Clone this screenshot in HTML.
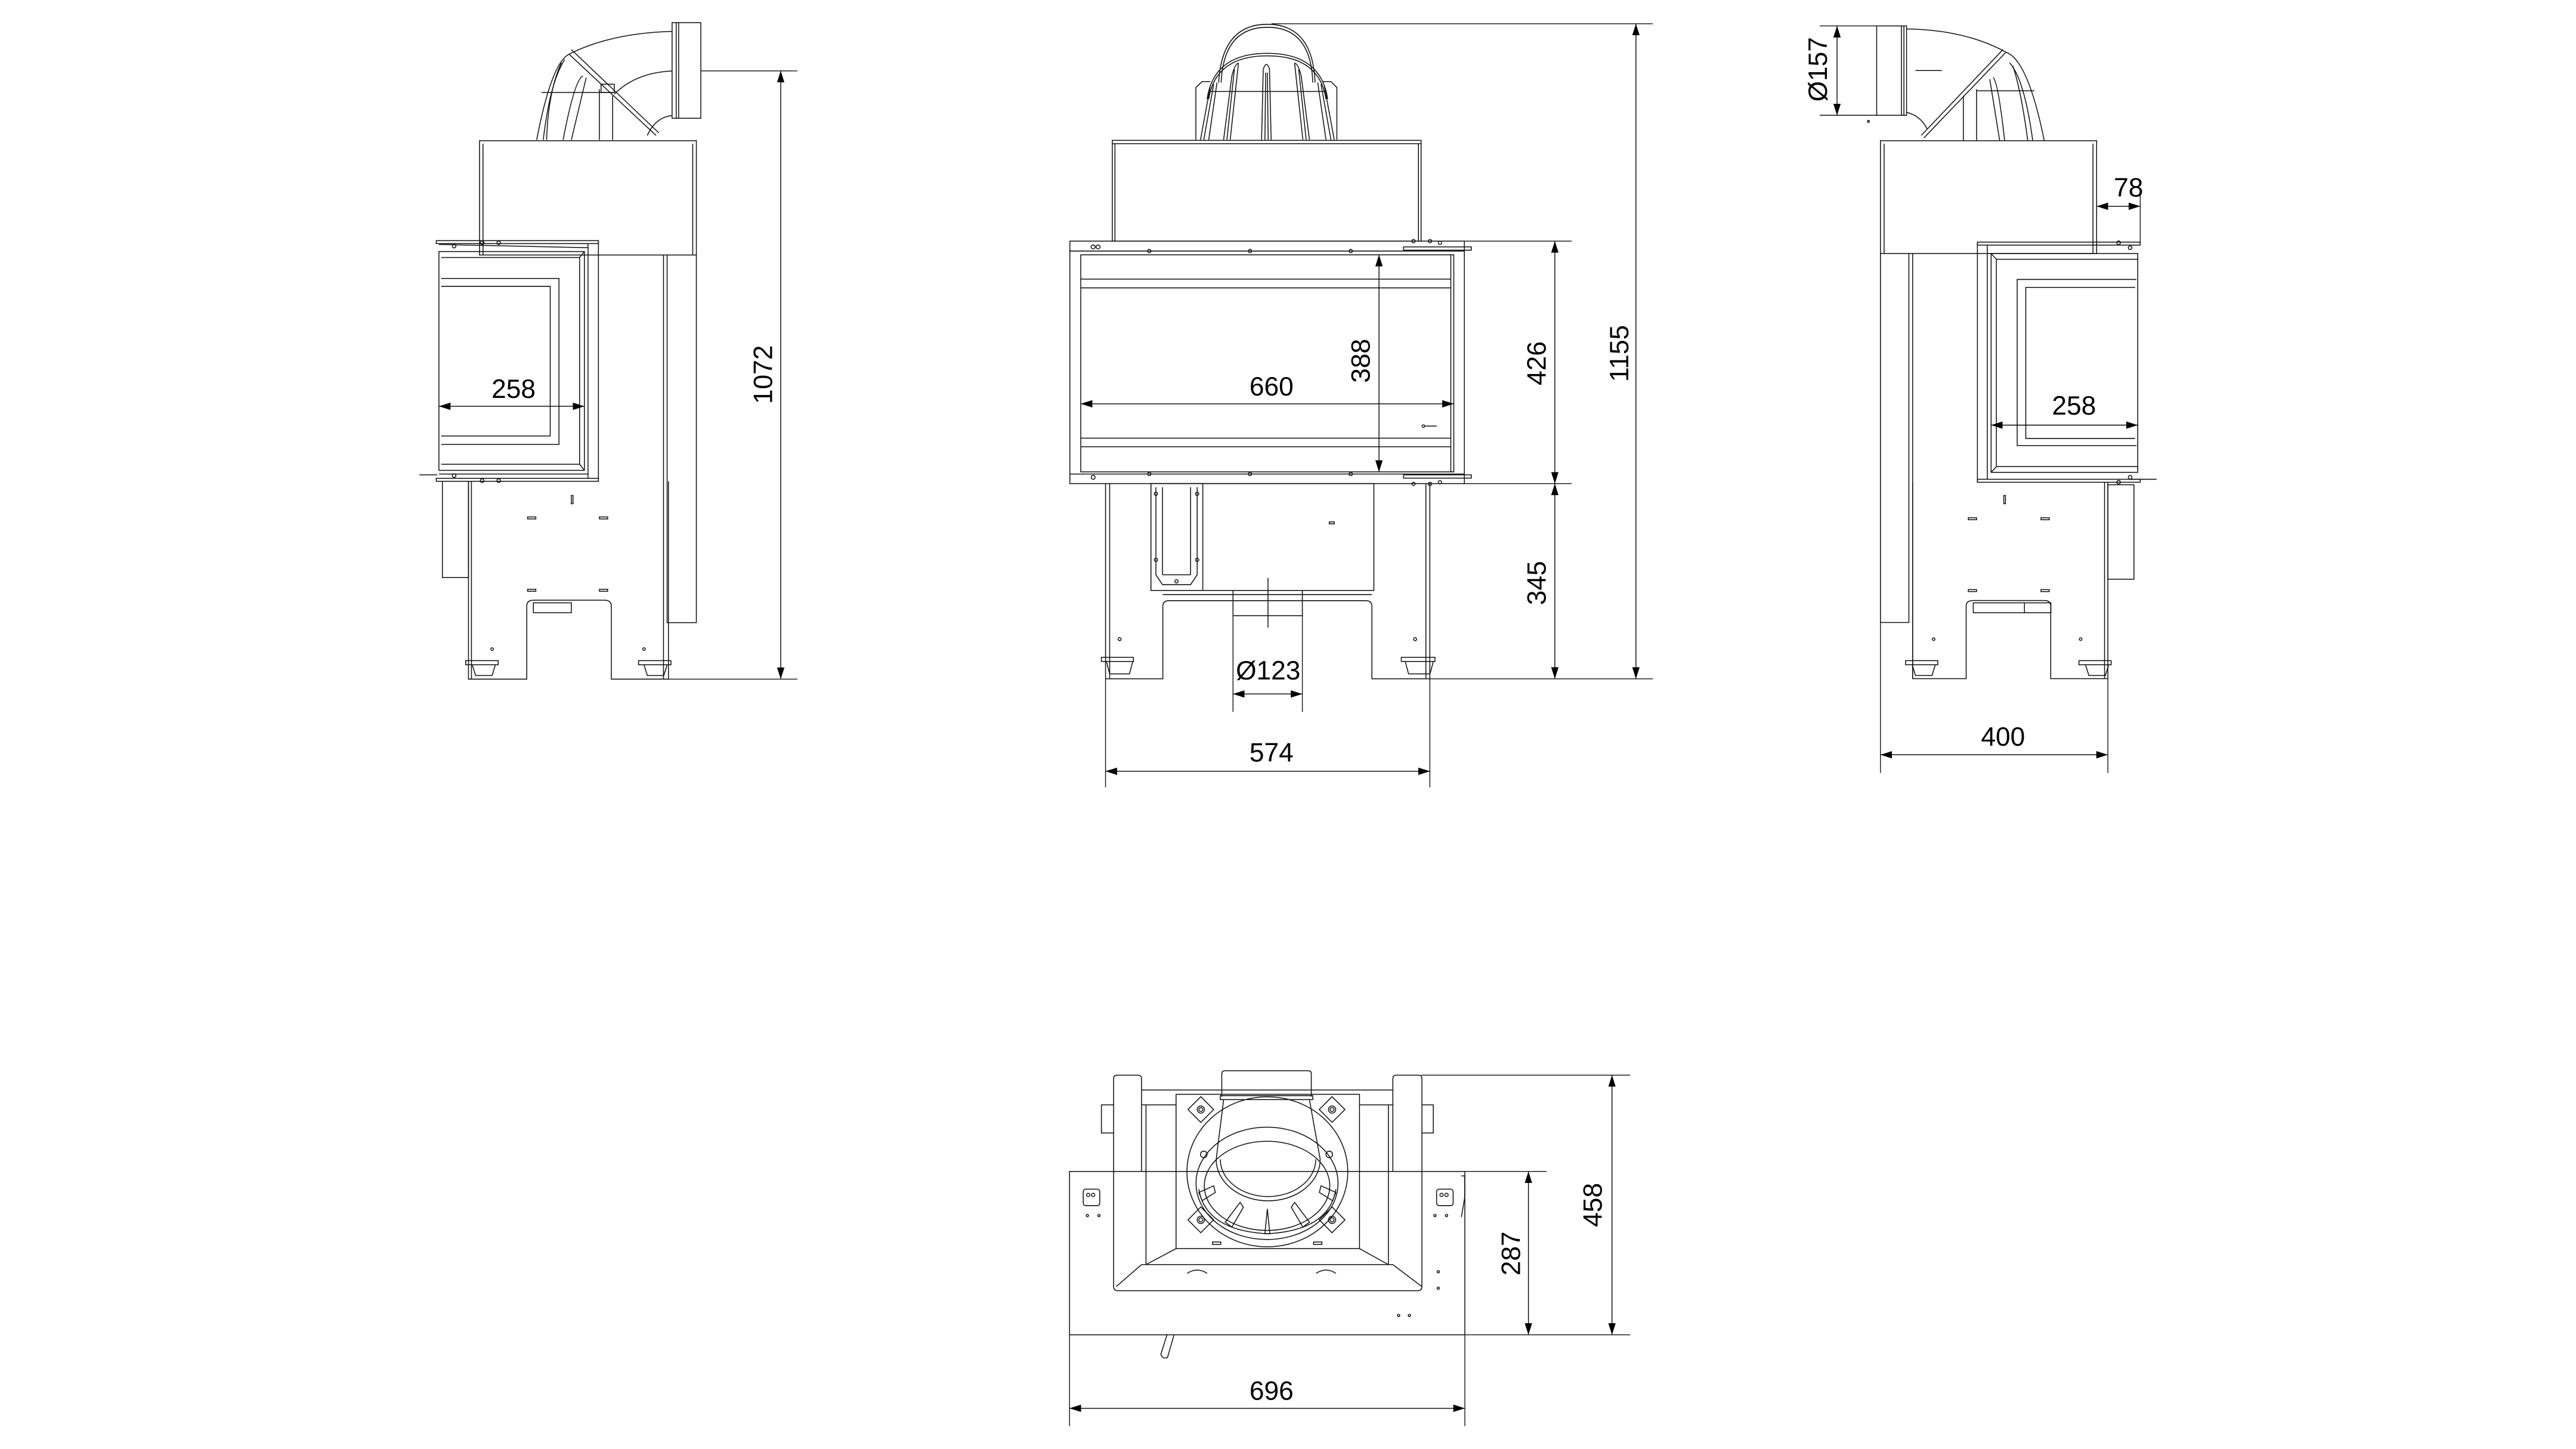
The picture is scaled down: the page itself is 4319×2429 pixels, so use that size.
<!DOCTYPE html>
<html><head><meta charset="utf-8"><style>
html,body{margin:0;padding:0;background:#fff}
svg{display:block}
text{font-family:"Liberation Sans",sans-serif;font-size:16px;fill:#000}
</style></head><body>
<svg width="4319" height="2429" viewBox="0 0 1560 877.35" xmlns="http://www.w3.org/2000/svg">
<defs>
<marker id="a" viewBox="0 0 10 10" refX="10" refY="5" markerWidth="7" markerHeight="7" markerUnits="userSpaceOnUse" orient="auto-start-reverse"><path d="M0,1.8 L10,5 L0,8.2z" fill="#000"/></marker>
</defs>
<rect width="1560" height="877.35" fill="#fff"/>
<g fill="none" stroke="#111" stroke-width="0.55">

<!-- ===== CENTER FRONT VIEW ===== -->
<!-- dome -->
<path d="M738,50 Q740,14.7 767.5,14.7 Q795,14.7 796.4,50"/>
<path d="M739.5,50 Q741,16.5 767.5,16.5 Q794,16.5 795,50"/>
<path d="M731,60 Q735,32.3 767.5,32.3 Q800,32.3 804,60"/>
<path d="M732,60 Q736,33.8 767.5,33.8 Q799,33.8 803,60"/>
<path d="M724.2,84.6 L724.2,53 L728,49.4 L733,49.4"/>
<path d="M809.6,84.6 L809.6,53 L806,49.4 L801,49.4"/>
<path d="M727,84.6 L733,52"/><path d="M729,84.6 L735,51"/><path d="M732,84.6 L737,50"/>
<path d="M808,84.6 L802,52"/><path d="M806,84.6 L800,51"/><path d="M803,84.6 L798,50"/>
<path d="M741,84.6 L746,46 Q748,38.3 750,38.3 L745,84.6"/>
<path d="M743,84.6 L747.5,42"/>
<path d="M764,84.6 L765,42 Q766.9,36 768.8,42 L769.8,84.6"/>
<path d="M766,84.6 L766.5,44"/><path d="M768,84.6 L767.5,44"/>
<path d="M793,84.6 L788,46 Q786,38.3 784,38.3 L789,84.6"/>
<path d="M791,84.6 L786.5,42"/>
<line x1="733" y1="55.4" x2="802" y2="55.4"/>
<!-- upper box -->
<rect x="673.6" y="85" width="187" height="61"/>
<line x1="675.2" y1="87" x2="675.2" y2="146"/><line x1="859" y1="87" x2="859" y2="146"/>
<line x1="673.6" y1="87" x2="860.6" y2="87"/>
<!-- main frame -->
<rect x="647.9" y="146" width="238.9" height="146.8"/>
<line x1="647.9" y1="152" x2="886.8" y2="152"/>
<line x1="647.9" y1="287" x2="886.8" y2="287"/>
<path d="M850,149.5 L891,149.5 L891,151.5 L850,151.5z"/>
<path d="M850,287.5 L891,287.5 L891,289.5 L850,289.5z"/>
<rect x="654.5" y="154.3" width="225.9" height="131.4"/>
<line x1="878.6" y1="154.3" x2="878.6" y2="285.7"/>
<line x1="654.5" y1="169" x2="878.6" y2="169"/><line x1="654.5" y1="174.3" x2="878.6" y2="174.3"/>
<line x1="654.5" y1="265.3" x2="878.6" y2="265.3"/><line x1="654.5" y1="270.5" x2="878.6" y2="270.5"/>
<circle cx="662" cy="149.5" r="1.2"/><circle cx="665" cy="149.5" r="1.2"/><circle cx="696" cy="152" r="1"/><circle cx="757" cy="152" r="1"/><circle cx="818" cy="152" r="1"/>
<circle cx="662" cy="289" r="1.2"/><circle cx="696" cy="287" r="1"/><circle cx="757" cy="287" r="1"/><circle cx="818" cy="287" r="1"/>
<circle cx="856" cy="146" r="1"/><circle cx="866" cy="146" r="1"/><circle cx="872" cy="147" r="1"/><circle cx="856" cy="293" r="1"/><circle cx="866" cy="293" r="1"/><circle cx="872" cy="292" r="1"/>
<circle cx="862" cy="258" r="0.8"/><line x1="863" y1="258" x2="870" y2="258"/>
<!-- lower legs -->
<path d="M669.5,292.8 L669.5,411 L704.2,411 L704.2,367 Q704.2,363.7 708,363.7 L827,363.7 Q830.8,363.7 830.8,367 L830.8,411 L865.9,411 L865.9,292.8"/>
<line x1="672" y1="292.8" x2="672" y2="411"/><line x1="863.5" y1="292.8" x2="863.5" y2="411"/>
<rect x="697" y="292.8" width="135" height="64.7"/>
<rect x="697" y="292.8" width="31.4" height="64.7"/>
<path d="M700,295 L700,348 L704,354 L721,354 L725,348 L725,295"/>
<line x1="704" y1="295" x2="704" y2="348"/><line x1="721" y1="295" x2="721" y2="348"/><line x1="704" y1="348" x2="721" y2="348"/>
<circle cx="700" cy="299" r="1"/><circle cx="725" cy="299" r="1"/><circle cx="700" cy="339" r="1"/><circle cx="725" cy="339" r="1"/><circle cx="712.5" cy="352" r="1"/>
<rect x="805" y="316" width="3" height="1.2"/>
<rect x="746.7" y="357.5" width="42" height="15.3"/>
<line x1="767.9" y1="350" x2="767.9" y2="380"/>
<line x1="704.2" y1="360" x2="830.8" y2="360"/>
<rect x="667" y="398" width="19.4" height="2.5"/><rect x="848.6" y="398" width="20.4" height="2.5"/>
<path d="M670,400.5 L672,408 L684,408 L686,400.5"/><path d="M851,400.5 L853,408 L866,408 L868,400.5"/>
<circle cx="678" cy="387" r="0.9"/><circle cx="857" cy="387" r="0.9"/>

<!-- ===== LEFT SIDE VIEW ===== -->
<rect x="407" y="13.7" width="17.4" height="57.9"/>
<line x1="409.5" y1="13.7" x2="409.5" y2="71.6"/><line x1="411" y1="13.7" x2="411" y2="71.6"/>
<path d="M407,19 Q370,20 344.6,32.8"/>
<path d="M407,43 Q385,44 372,57"/>
<path d="M407,70 Q397,71 392,82"/>
<path d="M344.6,32.8 L397.3,82 M346,30 L399,80.5"/>
<path d="M344.6,32.8 Q334,38 325,84.7"/>
<path d="M342,36 Q333,50 329,84.7"/><path d="M340,38 Q332,55 331,84.7"/>
<path d="M353,46 Q348,48 341,84.7 M355,47 L346,84.7"/>
<line x1="363" y1="54" x2="363" y2="84.7"/><line x1="371" y1="58" x2="371" y2="84.7"/>
<line x1="328" y1="56" x2="372" y2="56"/>
<rect x="364" y="51" width="8" height="5"/>
<!-- box -->
<rect x="290.4" y="85.2" width="131.3" height="69.2"/>
<line x1="292.5" y1="87" x2="292.5" y2="154.4"/><line x1="419.5" y1="87" x2="419.5" y2="154.4"/>
<path d="M404,154.4 L404,377 L421.7,377 L421.7,154.4"/>
<line x1="401.8" y1="154.4" x2="401.8" y2="411.2"/>
<!-- front frame -->
<rect x="264.2" y="145.7" width="98.2" height="1.8"/>
<rect x="264.2" y="289.6" width="98.2" height="1.8"/>
<line x1="362.4" y1="145.7" x2="362.4" y2="291.4"/><line x1="356.1" y1="147.5" x2="356.1" y2="289.6"/>
<rect x="265.8" y="152.3" width="88.1" height="132.5"/>
<path d="M267.2,155.9 L351,155.9 L351,281.1 L267.2,281.1"/>
<line x1="351" y1="155.9" x2="353.9" y2="152.3"/><line x1="351" y1="281.1" x2="353.9" y2="284.8"/>
<path d="M267.2,168.6 L338.5,168.6 L338.5,269.1 L267.2,269.1"/>
<path d="M267.2,173.4 L333.2,173.4 L333.2,264 L267.2,264"/>
<line x1="265.8" y1="148" x2="356" y2="150"/><line x1="265.8" y1="287" x2="356" y2="287"/>
<line x1="254" y1="287.5" x2="264.8" y2="287.5"/>
<circle cx="275" cy="149" r="1.1"/><circle cx="292" cy="147" r="1.1"/><circle cx="302" cy="147" r="1.1"/><circle cx="275" cy="288" r="1.1"/><circle cx="292" cy="291" r="1.1"/><circle cx="302" cy="291" r="1.1"/>
<!-- lower body -->
<path d="M283.7,291.4 L283.7,411.2 L319,411.2 L319,367 Q319,363.4 323,363.4 L366,363.4 Q370.2,363.4 370.2,367 L370.2,411.2 L404.8,411.2 L404.8,291.4"/>
<line x1="285.5" y1="291.4" x2="285.5" y2="411.2"/>
<rect x="267.9" y="291.4" width="15.8" height="58.3"/>
<rect x="323" y="365" width="23" height="6"/>
<rect x="319.5" y="313" width="5" height="1.2"/><rect x="363" y="313" width="5" height="1.2"/>
<rect x="319.5" y="356.8" width="5" height="1.2"/><rect x="363" y="356.8" width="5" height="1.2"/>
<rect x="346" y="300" width="1" height="5"/>
<rect x="282" y="400" width="19.7" height="2.5"/><rect x="386.7" y="400" width="19.6" height="2.5"/>
<path d="M286,402.5 L288,409 L298,409 L300,402.5"/><path d="M390,402.5 L392,409 L402,409 L404,402.5"/>
<circle cx="298" cy="393" r="0.8"/><circle cx="390" cy="393" r="0.8"/>

<!-- ===== RIGHT SIDE VIEW ===== -->
<rect x="1136.5" y="15.7" width="18.1" height="54.1"/>
<line x1="1151.5" y1="15.7" x2="1151.5" y2="69.8"/><line x1="1153" y1="15.7" x2="1153" y2="69.8"/>
<path d="M1154.6,17.5 Q1190,18 1214.8,31.6"/>
<path d="M1154.6,68 Q1163,70 1167,78"/>
<path d="M1214.8,31.6 L1165.1,83.5 M1213,30 L1163.5,82"/>
<path d="M1214.8,31.6 Q1228,36 1238,85.2"/>
<path d="M1217,38 Q1226,48 1231,85.2"/><path d="M1219,40 Q1224,55 1228,85.2"/>
<path d="M1207,47 Q1210,49 1214,85.2 M1205,48 L1211,85.2"/>
<line x1="1189" y1="58" x2="1189" y2="85.2"/><line x1="1197" y1="54" x2="1197" y2="85.2"/>
<line x1="1176" y1="42.7" x2="1160" y2="42.7"/><line x1="1197" y1="55" x2="1232" y2="55"/>
<rect x="1131" y="73" width="1" height="1"/>
<rect x="1138.8" y="85.2" width="130.9" height="68.3"/>
<line x1="1141" y1="87" x2="1141" y2="153.5"/><line x1="1267.5" y1="87" x2="1267.5" y2="153.5"/>
<path d="M1156,153.5 L1156,376.9 L1138.8,376.9 L1138.8,153.5"/>
<line x1="1158.3" y1="153.5" x2="1158.3" y2="410.9"/>
<!-- front frame -->
<rect x="1197.5" y="146.6" width="98.6" height="1.8"/>
<rect x="1197.5" y="290.2" width="98.6" height="1.8"/>
<line x1="1197.5" y1="146.6" x2="1197.5" y2="292"/><line x1="1203.5" y1="148.4" x2="1203.5" y2="290.2"/>
<rect x="1205.8" y="153.5" width="88.8" height="132.5"/>
<path d="M1294.6,157 L1209,157 L1209,282.5 L1294.6,282.5"/>
<line x1="1209" y1="157" x2="1205.8" y2="153.5"/><line x1="1209" y1="282.5" x2="1205.8" y2="286"/>
<path d="M1293.8,169.2 L1221.6,169.2 L1221.6,269.8 L1293.8,269.8"/>
<path d="M1293,174 L1226.8,174 L1226.8,265.5 L1293,265.5"/>
<line x1="1290" y1="290.2" x2="1306" y2="290.2"/>
<circle cx="1283" cy="147" r="1.1"/><circle cx="1290" cy="150" r="1.1"/><circle cx="1283" cy="292" r="1.1"/><circle cx="1290" cy="289" r="1.1"/>
<!-- lower body -->
<path d="M1158.3,292 L1158.3,410.9 L1190.7,410.9 L1190.7,367 Q1190.7,363.6 1195,363.6 L1238,363.6 Q1241.9,363.6 1241.9,367 L1241.9,410.9 L1276.5,410.9 L1276.5,292"/>
<line x1="1274.5" y1="292" x2="1274.5" y2="410.9"/>
<rect x="1276.5" y="293.5" width="15.8" height="57.2"/>
<rect x="1195" y="365" width="47" height="6"/><line x1="1226" y1="365" x2="1226" y2="371"/>
<rect x="1192" y="313.5" width="5" height="1.2"/><rect x="1236" y="313.5" width="5" height="1.2"/>
<rect x="1192" y="357" width="5" height="1.2"/><rect x="1236" y="357" width="5" height="1.2"/>
<rect x="1213.5" y="300" width="1" height="5"/>
<rect x="1154" y="400" width="19.5" height="2.5"/><rect x="1259" y="400" width="19.5" height="2.5"/>
<path d="M1158,402.5 L1160,409 L1170,409 L1172,402.5"/><path d="M1263,402.5 L1265,409 L1275,409 L1277,402.5"/>
<circle cx="1171" cy="387" r="0.8"/><circle cx="1260" cy="387" r="0.8"/>

<!-- ===== BOTTOM (TOP-DOWN) VIEW ===== -->
<rect x="647.7" y="709.3" width="239.4" height="98.9"/>
<path d="M674.4,709.3 L674.4,653 Q674.4,651 676.5,651 L689,651 Q691.3,651 691.3,653 L691.3,709.3"/>
<path d="M843.5,709.3 L843.5,653 Q843.5,651 845.6,651 L859,651 Q861.1,651 861.1,653 L861.1,709.3"/>
<path d="M674.4,709.3 L674.4,779 Q674.4,781.5 677,781.5 L858.5,781.5 Q861.1,781.5 861.1,779 L861.1,709.3"/>
<line x1="691.3" y1="660" x2="843.5" y2="660"/><line x1="691.3" y1="669" x2="712.2" y2="669"/><line x1="823.3" y1="669" x2="843.5" y2="669"/>
<line x1="694" y1="669" x2="694" y2="765.7"/><line x1="840.8" y1="669" x2="840.8" y2="765.7"/>
<path d="M674.4,669 L667,669 L667,686 L674.4,686"/><path d="M861.1,669 L868,669 L868,686 L861.1,686"/>
<path d="M691.3,765.7 L843.5,765.7 L861.1,779 M691.3,765.7 L676,779"/>
<line x1="694" y1="765.7" x2="712.2" y2="756"/><line x1="840.8" y1="765.7" x2="823.3" y2="756"/>
<rect x="712.2" y="662.6" width="111.1" height="93.4"/>
<!-- collar -->
<path d="M739.9,664 L739.9,650 Q740,648.3 742,648.3 L792,648.3 Q794.1,648.3 794.1,650 L794.1,664"/>
<rect x="739" y="663.4" width="56" height="2.4"/>
<path d="M741,666 L736.5,702 A31.4,25 0 0 0 799.5,702 L793,666"/>
<path d="M739,702 A28.9,22.5 0 0 0 796.8,702"/>
<ellipse cx="767.5" cy="709.5" rx="48.7" ry="45.4"/>
<ellipse cx="767.3" cy="716.5" rx="43" ry="34"/>
<ellipse cx="767.3" cy="718" rx="38" ry="27"/>
<path d="M726,720 Q730,745 767.5,747"/><path d="M809,720 Q805,745 767.5,747"/>
<g transform="translate(727.2,671.8) rotate(45)"><rect x="-5.5" y="-5.5" width="11" height="11"/><circle r="2.2"/><circle r="1.2"/></g>
<g transform="translate(806.7,671.8) rotate(45)"><rect x="-5.5" y="-5.5" width="11" height="11"/><circle r="2.2"/><circle r="1.2"/></g>
<g transform="translate(727.2,738.6) rotate(45)"><rect x="-5.5" y="-5.5" width="11" height="11"/><circle r="2.2"/><circle r="1.2"/></g>
<g transform="translate(806.7,738.6) rotate(45)"><rect x="-5.5" y="-5.5" width="11" height="11"/><circle r="2.2"/><circle r="1.2"/></g>
<circle cx="729" cy="699" r="2"/><circle cx="805" cy="699" r="2"/>
<path d="M742,740 L751,728 L753,731 L746,743z"/><path d="M766,747 L767.5,732 L769,747z"/><path d="M793,740 L784,728 L782,731 L789,743z"/>
<path d="M726,722 L735,718 L736,722 L728,727z"/><path d="M809,722 L800,718 L799,722 L807,727z"/>
<rect x="734.3" y="752" width="5" height="1.5"/><rect x="795.5" y="752" width="5" height="1.5"/>
<path d="M719,771 Q725,767 731,771"/><path d="M797,771 Q803,767 809,771"/>
<rect x="656" y="720" width="10" height="10" rx="1.5"/><rect x="870" y="720" width="10" height="10" rx="1.5"/>
<circle cx="659" cy="723.5" r="1"/><circle cx="662" cy="723.5" r="1"/><circle cx="873" cy="723.5" r="1"/><circle cx="876" cy="723.5" r="1"/>
<circle cx="658.5" cy="736" r="0.7"/><circle cx="665.5" cy="736" r="0.7"/><circle cx="869" cy="736" r="0.7"/><circle cx="876" cy="736" r="0.7"/>
<circle cx="871" cy="770" r="0.7"/><circle cx="871" cy="780" r="0.7"/><circle cx="847" cy="796.5" r="0.7"/><circle cx="853.5" cy="796.5" r="0.7"/>
<path d="M885,712 L887,712 L887,725 L885,737"/>
<path d="M706.7,808.2 L703,820 Q704,823 707,822 L711,808.2"/>
</g>

<!-- ===== DIMENSIONS ===== -->
<g fill="none" stroke="#111" stroke-width="0.5">
<!-- center -->
<line x1="770" y1="14.4" x2="1001" y2="14.4"/>
<line x1="866" y1="411" x2="1001" y2="411"/>
<line x1="886.8" y1="146" x2="951.8" y2="146"/>
<line x1="886.8" y1="292.8" x2="951.8" y2="292.8"/>
<line x1="669.5" y1="411" x2="669.5" y2="476.7"/><line x1="865.9" y1="411" x2="865.9" y2="476.7"/>
<line x1="746.7" y1="372.8" x2="746.7" y2="431"/><line x1="788.7" y1="372.8" x2="788.7" y2="431"/>
<!-- left -->
<line x1="424.4" y1="42.9" x2="482.9" y2="42.9"/><line x1="404.8" y1="411.2" x2="482.9" y2="411.2"/>
<!-- right -->
<line x1="1102" y1="15.7" x2="1136.5" y2="15.7"/><line x1="1102" y1="69.8" x2="1136.5" y2="69.8"/>
<line x1="1296.1" y1="114.4" x2="1296.1" y2="148"/>
<line x1="1138.8" y1="376.9" x2="1138.8" y2="468"/><line x1="1276.5" y1="410.9" x2="1276.5" y2="468"/>
<!-- bottom -->
<line x1="860.7" y1="651" x2="987.2" y2="651"/>
<line x1="887.1" y1="709.3" x2="936.6" y2="709.3"/>
<line x1="887.1" y1="808.2" x2="987.2" y2="808.2"/>
<line x1="647.7" y1="808.2" x2="647.7" y2="863.5"/><line x1="887.1" y1="808.2" x2="887.1" y2="863.5"/>
</g>
<g stroke="#000" stroke-width="0.5" marker-start="url(#a)" marker-end="url(#a)">
<line x1="654.5" y1="244.5" x2="880.4" y2="244.5"/>
<line x1="835.1" y1="154.3" x2="835.1" y2="285.7"/>
<line x1="941.6" y1="146" x2="941.6" y2="292.8"/>
<line x1="941.6" y1="292.8" x2="941.6" y2="411"/>
<line x1="990.7" y1="14.4" x2="990.7" y2="411"/>
<line x1="746.7" y1="420.2" x2="788.7" y2="420.2"/>
<line x1="669.5" y1="467" x2="865.9" y2="467"/>
<line x1="472.8" y1="42.9" x2="472.8" y2="411.2"/>
<line x1="265.8" y1="246" x2="353.9" y2="246"/>
<line x1="1112.5" y1="15.7" x2="1112.5" y2="69.8"/>
<line x1="1269.7" y1="124.9" x2="1296.1" y2="124.9"/>
<line x1="1205.8" y1="257.4" x2="1294.6" y2="257.4"/>
<line x1="1138.8" y1="457" x2="1276.5" y2="457"/>
<line x1="925.6" y1="709.3" x2="925.6" y2="808.2"/>
<line x1="976.2" y1="651" x2="976.2" y2="808.2"/>
<line x1="647.7" y1="852.7" x2="887.1" y2="852.7"/>
</g>
<g text-anchor="middle">
<text x="770" y="239.5">660</text>
<text transform="translate(829.5,218.5) rotate(-90)">388</text>
<text transform="translate(936,220) rotate(-90)">426</text>
<text transform="translate(936,353) rotate(-90)">345</text>
<text transform="translate(986,214) rotate(-90)">1155</text>
<text x="768" y="411.5">Ø123</text>
<text x="770" y="461">574</text>
<text transform="translate(467.5,226.8) rotate(-90)">1072</text>
<text x="311" y="241">258</text>
<text transform="translate(1106.3,42) rotate(-90)">Ø157</text>
<text x="1289" y="119">78</text>
<text x="1256" y="251">258</text>
<text x="1213" y="451.5">400</text>
<text transform="translate(920.5,759) rotate(-90)">287</text>
<text transform="translate(970,729.6) rotate(-90)">458</text>
<text x="770" y="847.5">696</text>
</g>
</svg>
</body></html>
